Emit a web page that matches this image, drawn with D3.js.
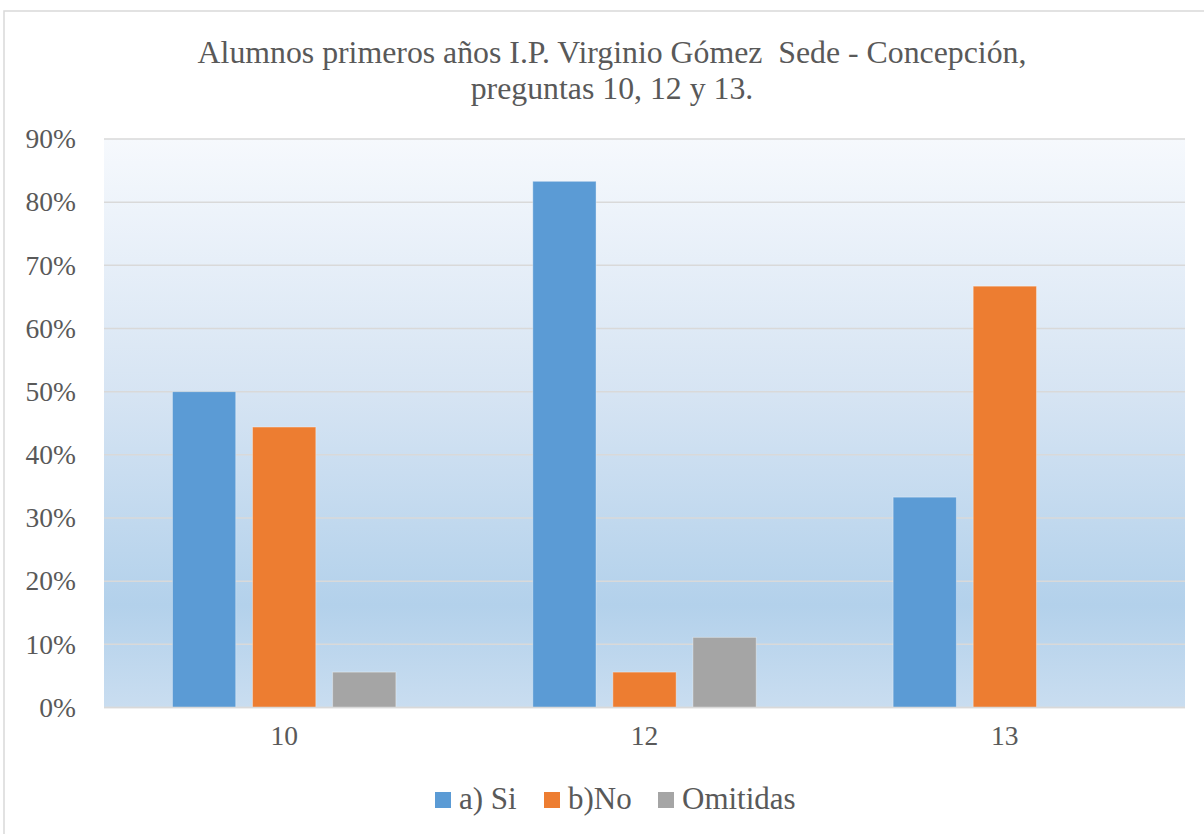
<!DOCTYPE html>
<html><head><meta charset="utf-8">
<script src="https://cdn.jsdelivr.net/npm/d3@7"></script>
<style>body{margin:0;background:#fff}svg{display:block}
svg text{font-family:"Liberation Serif","Times New Roman","DejaVu Serif",serif;}</style>
</head><body>
<script>
const categories = ["10", "12", "13"];
const seriesNames = ["a) Si", "b)No", "Omitidas"];
const siValues = [0.50, 0.833, 0.333];
const noValues = [0.444, 0.056, 0.667];
const omitValues = [0.056, 0.111, 0];
const yTicks = [0, 0.1, 0.2, 0.3, 0.4, 0.5, 0.6, 0.7, 0.8, 0.9];
const colors = ["#5b9bd5", "#ed7d31", "#a5a5a5"];
const titleLines = ["Alumnos primeros años I.P. Virginio Gómez  Sede - Concepción,", "preguntas 10, 12 y 13."];

(function () {
const W = 1204, H = 834;
const svg = d3.select("body").append("svg").attr("width", W).attr("height", H);
const textColor = "#595959";

svg.append("rect").attr("x", 4).attr("y", 11).attr("width", W + 10).attr("height", H)
  .attr("fill", "#fff").attr("stroke", "#d9d9d9").attr("stroke-width", 1.5);

const pL = 104, pR = 1185, pT = 139, pB = 707.5;

const defs = svg.append("defs");
const grad = defs.append("linearGradient").attr("id", "bg").attr("x1", 0).attr("y1", 0).attr("x2", 0).attr("y2", 1);
[[0, "#f6f9fd"], [0.45, "#d6e4f3"], [0.82, "#b3d1eb"], [1, "#c9ddf0"]].forEach(([o, c]) =>
  grad.append("stop").attr("offset", o).attr("stop-color", c));

svg.append("rect").attr("x", pL).attr("y", pT).attr("width", pR - pL).attr("height", pB - pT)
  .attr("fill", "url(#bg)");

const y = d3.scaleLinear().domain([0, 0.9]).range([pB, pT]);
const x0 = d3.scaleBand().domain(categories).range([pL, pR]).paddingInner(0.38).paddingOuter(0.19);
const x1 = d3.scaleBand().domain(seriesNames).range([0, x0.bandwidth()]).paddingInner(0.21);

svg.append("g").selectAll("line").data(yTicks).join("line")
  .attr("x1", pL).attr("x2", pR).attr("y1", d => y(d)).attr("y2", d => y(d))
  .attr("stroke", "#d9d9d9").attr("stroke-width", 1.5);

const yAxis = svg.append("g").attr("transform", `translate(${pL},0)`)
  .call(d3.axisLeft(y).tickValues(yTicks).tickFormat(d3.format(".0%")).tickSize(0).tickPadding(28));
yAxis.select(".domain").remove();
yAxis.attr("font-family", null);
yAxis.selectAll("text").attr("font-size", 27.5).attr("fill", textColor);

const seriesData = [siValues, noValues, omitValues];
const g = svg.append("g");
categories.forEach((c, i) => {
  seriesNames.forEach((s, j) => {
    const v = seriesData[j][i];
    if (v <= 0) return;
    g.append("rect")
      .attr("x", x0(c) + x1(s))
      .attr("y", y(v))
      .attr("width", x1.bandwidth())
      .attr("height", y(0) - y(v))
      .attr("fill", colors[j])
      .attr("stroke", "rgba(255,255,255,0.35)").attr("stroke-width", 1);
  });
});

const xAxis = svg.append("g").attr("transform", `translate(0,${pB})`)
  .call(d3.axisBottom(x0).tickSize(0).tickPadding(18));
xAxis.select(".domain").remove();
xAxis.attr("font-family", null);
svg.append("line").attr("x1", pL).attr("x2", pR).attr("y1", pB).attr("y2", pB)
  .attr("stroke", "#d9d9d9").attr("stroke-width", 1.5);
xAxis.selectAll("text").attr("font-size", 27.5).attr("fill", textColor);

const title = svg.append("text").attr("text-anchor", "middle")
  .attr("font-size", 31.8).attr("fill", textColor).style("white-space", "pre");
title.append("tspan").attr("x", 612).attr("y", 63).text(titleLines[0]);
title.append("tspan").attr("x", 612).attr("y", 99).text(titleLines[1]);

const legendX = [435, 544, 658];
const lg = svg.append("g");
seriesNames.forEach((s, j) => {
  lg.append("rect").attr("x", legendX[j]).attr("y", 792).attr("width", 16).attr("height", 16).attr("fill", colors[j]);
  lg.append("text").attr("x", legendX[j] + 24).attr("y", 809)
    .attr("font-size", 31).attr("fill", textColor).text(s);
});
})();
</script>
</body></html>
